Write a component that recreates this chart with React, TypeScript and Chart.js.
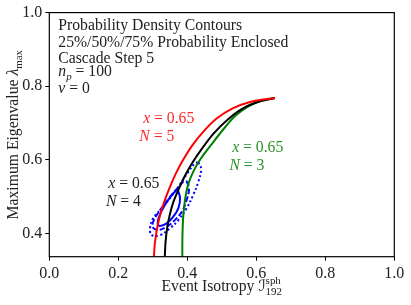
import { useEffect, useRef } from 'react';
import { Chart, registerables } from 'chart.js';

Chart.register(...registerables);

const xTicks = [0.0, 0.2, 0.4, 0.6, 0.8, 1.0];
const yTicks = [0.4, 0.6, 0.8, 1.0];
const xRange = [0.0, 1.0];
const yRange = [0.3365, 1.0];

// Analytic x = 0.65 curves for N = 5, 4, 3
const curveN5: [number, number][] = [
  [0.3030, 0.336], [0.3035, 0.341], [0.3064, 0.377], [0.316, 0.430], [0.330, 0.477],
  [0.348, 0.522], [0.367, 0.563], [0.388, 0.600], [0.415, 0.640], [0.446, 0.676],
  [0.485, 0.712], [0.530, 0.739], [0.582, 0.757], [0.654, 0.768],
];
const curveN4: [number, number][] = [
  [0.3348, 0.336], [0.335, 0.341], [0.337, 0.377], [0.3415, 0.4135], [0.349, 0.450],
  [0.360, 0.486], [0.376, 0.522], [0.394, 0.558], [0.416, 0.594], [0.443, 0.631],
  [0.476, 0.671], [0.515, 0.7075], [0.560, 0.739], [0.610, 0.759], [0.654, 0.768],
];
const curveN3: [number, number][] = [
  [0.3855, 0.336], [0.3855, 0.341], [0.386, 0.3955], [0.3885, 0.450], [0.394, 0.495],
  [0.402, 0.531], [0.417, 0.567], [0.437, 0.600], [0.472, 0.644], [0.510, 0.689],
  [0.540, 0.720], [0.577, 0.745], [0.615, 0.760], [0.654, 0.768],
];

// Probability density contours (25% / 50% / 75% enclosed)
const contour25: [number, number][] = [
  [0.372, 0.520], [0.379, 0.495], [0.374, 0.468], [0.359, 0.445], [0.340, 0.427],
  [0.321, 0.420], [0.314, 0.427], [0.318, 0.445], [0.335, 0.477], [0.355, 0.504],
  [0.372, 0.520],
];
const contour50: [number, number][] = [
  [0.398, 0.542], [0.405, 0.522], [0.398, 0.490], [0.384, 0.459], [0.364, 0.436],
  [0.340, 0.418], [0.316, 0.409], [0.301, 0.415], [0.301, 0.431], [0.321, 0.463],
  [0.350, 0.499], [0.379, 0.531], [0.391, 0.542], [0.398, 0.542],
];
const contour75: [number, number][] = [
  [0.432, 0.593], [0.440, 0.576], [0.432, 0.540], [0.417, 0.504], [0.398, 0.468],
  [0.374, 0.436], [0.350, 0.414], [0.321, 0.395], [0.297, 0.395], [0.292, 0.414],
  [0.301, 0.441], [0.326, 0.468], [0.364, 0.513], [0.403, 0.567], [0.422, 0.590],
  [0.432, 0.593],
];

type Run = { t: string; it?: boolean; sub?: boolean; sup?: boolean; keep?: boolean };

const infoLines: Run[][] = [
  [{ t: 'Probability Density Contours' }],
  [{ t: '25%/50%/75% Probability Enclosed' }],
  [{ t: 'Cascade Step 5' }],
  [{ t: 'n', it: true }, { t: 'p', it: true, sub: true }, { t: ' = 100' }],
  [{ t: 'ν', it: true }, { t: ' = 0' }],
];
const infoBaselines = [30, 46.7, 63.3, 76, 92.7];

// curve labels: [runs, data x, data y, color]
const curveLabels: [Run[], number, number, string][] = [
  [[{ t: 'x', it: true }, { t: ' = 0.65' }], 0.272, 0.700, '#ff2a2a'],
  [[{ t: 'N', it: true }, { t: ' = 5' }], 0.261, 0.652, '#ff2a2a'],
  [[{ t: 'x', it: true }, { t: ' = 0.65' }], 0.530, 0.621, '#2a922a'],
  [[{ t: 'N', it: true }, { t: ' = 3' }], 0.522, 0.573, '#2a922a'],
  [[{ t: 'x', it: true }, { t: ' = 0.65' }], 0.171, 0.523, '#222'],
  [[{ t: 'N', it: true }, { t: ' = 4' }], 0.164, 0.473, '#222'],
];

const xTitle: Run[] = [
  { t: 'Event Isotropy ' },
  { t: 'ℐ' },
  { t: 'sph', sup: true, keep: true },
  { t: '192', sub: true },
];
const yTitle: Run[] = [
  { t: 'Maximum Eigenvalue ' },
  { t: 'λ', it: true },
  { t: 'max', sub: true },
];

const FAMILY = '"Liberation Serif", "DejaVu Serif", "DejaVu Sans", serif';

function fontFor(r: Run, size: number) {
  const s = r.sub || r.sup ? size * 0.7 : size;
  return `${r.it ? 'italic ' : ''}${s}px ${FAMILY}`;
}

function runsWidth(ctx: CanvasRenderingContext2D, runs: Run[], size: number) {
  let w = 0;
  for (const r of runs) {
    ctx.font = fontFor(r, size);
    if (!r.keep) w += ctx.measureText(r.t).width;
  }
  return w;
}

function drawRuns(
  ctx: CanvasRenderingContext2D,
  runs: Run[],
  x: number,
  y: number,
  size: number,
  color: string,
  center: boolean
) {
  let cx = center ? x - runsWidth(ctx, runs, size) / 2 : x;
  ctx.fillStyle = color;
  ctx.textBaseline = 'alphabetic';
  ctx.textAlign = 'left';
  for (const r of runs) {
    ctx.font = fontFor(r, size);
    const dy = r.sub ? size * 0.28 : r.sup ? -size * 0.42 : 0;
    ctx.fillText(r.t, cx, y + dy);
    if (!r.keep) cx += ctx.measureText(r.t).width;
  }
}

const textPlugin = {
  id: 'textPlugin',
  afterDraw(chart: any) {
    const ctx: CanvasRenderingContext2D = chart.ctx;
    const a = chart.chartArea;
    const xs = chart.scales.x;
    const ys = chart.scales.y;
    ctx.save();
    ctx.strokeStyle = '#000';
    ctx.lineWidth = 1.2;
    ctx.strokeRect(a.left, a.top, a.right - a.left, a.bottom - a.top);
    infoLines.forEach((runs, i) => {
      drawRuns(ctx, runs, a.left + 9, infoBaselines[i], 15.7, '#222', false);
    });
    curveLabels.forEach(([runs, dx, dy, color]) => {
      drawRuns(ctx, runs, xs.getPixelForValue(dx), ys.getPixelForValue(dy), 15.7, color, false);
    });
    drawRuns(ctx, xTitle, (a.left + a.right) / 2, 291, 15.7, '#222', true);
    ctx.translate(17.5, (a.top + a.bottom) / 2);
    ctx.rotate(-Math.PI / 2);
    drawRuns(ctx, yTitle, 0, 0, 15.7, '#222', true);
    ctx.restore();
  },
};

function toPts(arr: [number, number][]) {
  return arr.map(([x, y]) => ({ x, y }));
}

export default function App() {
  const ref = useRef<HTMLCanvasElement>(null);
  useEffect(() => {
    if (!ref.current) return;
    const tickFont = { family: FAMILY, size: 16 };
    const line = { showLine: true, pointRadius: 0, borderWidth: 2 };
    const chart = new Chart(ref.current, {
      type: 'scatter',
      data: {
        datasets: [
          { ...line, data: toPts(curveN5), borderColor: '#ff0000', tension: 0.3 },
          { ...line, data: toPts(curveN4), borderColor: '#000000', tension: 0.3 },
          { ...line, data: toPts(curveN3), borderColor: '#008000', tension: 0.3 },
          { ...line, data: toPts(contour25), borderColor: '#0000ff', tension: 0.4 },
          { ...line, data: toPts(contour50), borderColor: '#0000ff', tension: 0.4, borderDash: [5.5, 2.5] },
          { ...line, data: toPts(contour75), borderColor: '#0000ff', tension: 0.4, borderDash: [2, 2.5] },
        ] as any,
      },
      options: {
        animation: false,
        responsive: false,
        devicePixelRatio: 1,
        layout: { padding: { top: 12.3, right: 16.7, left: 0, bottom: 0 } },
        plugins: { legend: { display: false }, tooltip: { enabled: false } },
        scales: {
          x: {
            type: 'linear',
            min: xRange[0],
            max: xRange[1],
            afterBuildTicks: (s: any) => { s.ticks = xTicks.map((v) => ({ value: v })); },
            afterFit: (s: any) => { s.height = 48.3; },
            ticks: {
              callback: (v: any) => Number(v).toFixed(1),
              font: tickFont,
              color: '#222',
              maxRotation: 0,
              autoSkip: false,
              padding: 3,
            },
            grid: { display: true, drawOnChartArea: false, drawTicks: true, tickLength: 4, color: '#000' },
            border: { display: false },
          },
          y: {
            type: 'linear',
            min: yRange[0],
            max: yRange[1],
            afterBuildTicks: (s: any) => { s.ticks = yTicks.map((v) => ({ value: v })); },
            afterFit: (s: any) => { s.width = 49.3; },
            ticks: {
              callback: (v: any) => Number(v).toFixed(1),
              font: tickFont,
              color: '#222',
              autoSkip: false,
              padding: 3,
            },
            grid: { display: true, drawOnChartArea: false, drawTicks: true, tickLength: 4, color: '#000' },
            border: { display: false },
          },
        },
      } as any,
      plugins: [textPlugin],
    });
    return () => chart.destroy();
  }, []);
  return (
    <div style={{ position: 'absolute', left: 0, top: 0, width: 411, height: 305, background: '#fff' }}>
      <canvas ref={ref} width={411} height={305} style={{ width: 411, height: 305 }} />
    </div>
  );
}
